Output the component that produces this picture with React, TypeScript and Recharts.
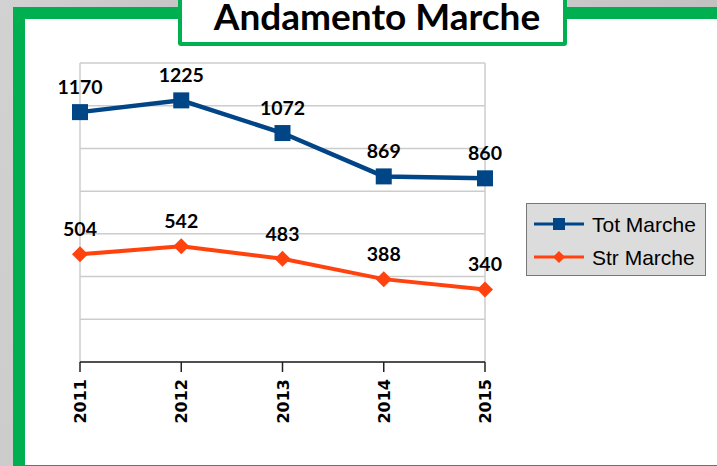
import { LineChart, Line, XAxis, YAxis, CartesianGrid, LabelList } from "recharts";

const years = ["2011", "2012", "2013", "2014", "2015"];
const totMarche = [1170, 1225, 1072, 869, 860];
const strMarche = [504, 542, 483, 388, 340];
const yTicks = [0, 200, 400, 600, 800, 1000, 1200, 1400];

const BLUE = "#004586";
const ORANGE = "#ff420e";
const GREEN = "#00b050";

const data = years.map((year, i) => ({
  year,
  tot: totMarche[i],
  str: strMarche[i],
}));

const SquareDot = (props: any) => {
  const { cx, cy } = props;
  if (cx == null || cy == null) return null;
  return <rect x={cx - 8} y={cy - 8} width={16} height={16} fill={BLUE} />;
};

const DiamondDot = (props: any) => {
  const { cx, cy } = props;
  if (cx == null || cy == null) return null;
  const r = 8;
  return (
    <path
      d={`M${cx},${cy - r} L${cx + r},${cy} L${cx},${cy + r} L${cx - r},${cy} Z`}
      fill={ORANGE}
    />
  );
};

const valueLabel = (props: any) => {
  const { x, y, value } = props;
  return (
    <text
      x={x}
      y={y - 18}
      textAnchor="middle"
      fill="#000"
      style={{ fontFamily: "Lato, sans-serif", fontWeight: 700, fontSize: 19.5 }}
    >
      {value}
    </text>
  );
};

const YearTick = (props: any) => {
  const { x, payload } = props;
  return (
    <text
      transform={`translate(${x + 6},379) rotate(-90)`}
      textAnchor="end"
      fill="#000"
      style={{ fontFamily: "DejaVu Sans, sans-serif", fontWeight: 700, fontSize: 16 }}
    >
      {payload.value}
    </text>
  );
};

export default function App() {
  return (
    <div
      style={{
        position: "absolute",
        left: 0,
        top: 0,
        width: 717,
        height: 466,
        overflow: "hidden",
        background: "linear-gradient(100deg, #d2d2d2 0%, #bcbcbc 40%, #c9c9c9 70%, #bdbdbd 100%)",
      }}
    >
      {/* green frame */}
      <div
        style={{
          position: "absolute",
          left: 13,
          top: 7,
          width: 730,
          height: 470,
          boxSizing: "border-box",
          border: `12px solid ${GREEN}`,
          background: "#fff",
        }}
      />

      <div style={{ position: "absolute", left: 0, top: 0 }}>
        <LineChart
          width={717}
          height={466}
          data={data}
          margin={{ top: 63, right: 232, bottom: 44, left: 80 }}
        >
          <CartesianGrid
            stroke="#cccccc"
            strokeWidth={1.5}
            verticalCoordinatesGenerator={({ offset }: any) => [
              offset.left,
              offset.left + offset.width,
            ]}
          />
          <YAxis hide domain={[0, 1400]} ticks={yTicks} />
          <XAxis
            dataKey="year"
            height={60}
            interval={0}
            stroke="#222"
            strokeWidth={1.5}
            tickSize={10}
            tickLine={{ stroke: "#222", strokeWidth: 1.5 }}
            tick={<YearTick />}
          />
          <Line
            dataKey="tot"
            stroke={BLUE}
            strokeWidth={4.5}
            dot={<SquareDot />}
            activeDot={false}
            isAnimationActive={false}
          >
            <LabelList dataKey="tot" content={valueLabel} />
          </Line>
          <Line
            dataKey="str"
            stroke={ORANGE}
            strokeWidth={4}
            dot={<DiamondDot />}
            activeDot={false}
            isAnimationActive={false}
          >
            <LabelList dataKey="str" content={valueLabel} />
          </Line>
        </LineChart>
      </div>

      {/* title box */}
      <div
        style={{
          position: "absolute",
          left: 178,
          top: -12,
          width: 389,
          height: 58,
          boxSizing: "border-box",
          border: `4px solid ${GREEN}`,
          borderRadius: 3,
          background: "#fff",
        }}
      />
      <svg
        width={717}
        height={60}
        style={{ position: "absolute", left: 0, top: 0 }}
      >
        <text
          x={377}
          y={30}
          textAnchor="middle"
          fill="#000"
          style={{ fontFamily: "Lato, sans-serif", fontWeight: 700, fontSize: 37 }}
        >
          Andamento Marche
        </text>
      </svg>

      {/* legend */}
      <div
        style={{
          position: "absolute",
          left: 526,
          top: 203,
          width: 180,
          height: 73,
          boxSizing: "border-box",
          border: "1px solid #777",
          background: "#dcdcdc",
        }}
      >
        <svg width={178} height={71}>
          <line x1={7} y1={20} x2={57} y2={20} stroke={BLUE} strokeWidth={3} />
          <rect x={26} y={14} width={12} height={12} fill={BLUE} />
          <text
            x={65}
            y={28}
            fill="#000"
            style={{ fontFamily: "Liberation Sans, Arial, sans-serif", fontSize: 21 }}
          >
            Tot Marche
          </text>
          <line x1={7} y1={53} x2={57} y2={53} stroke={ORANGE} strokeWidth={3} />
          <path d="M32,47 L38,53 L32,59 L26,53 Z" fill={ORANGE} />
          <text
            x={65}
            y={61}
            fill="#000"
            style={{ fontFamily: "Liberation Sans, Arial, sans-serif", fontSize: 21 }}
          >
            Str Marche
          </text>
        </svg>
      </div>
    </div>
  );
}
